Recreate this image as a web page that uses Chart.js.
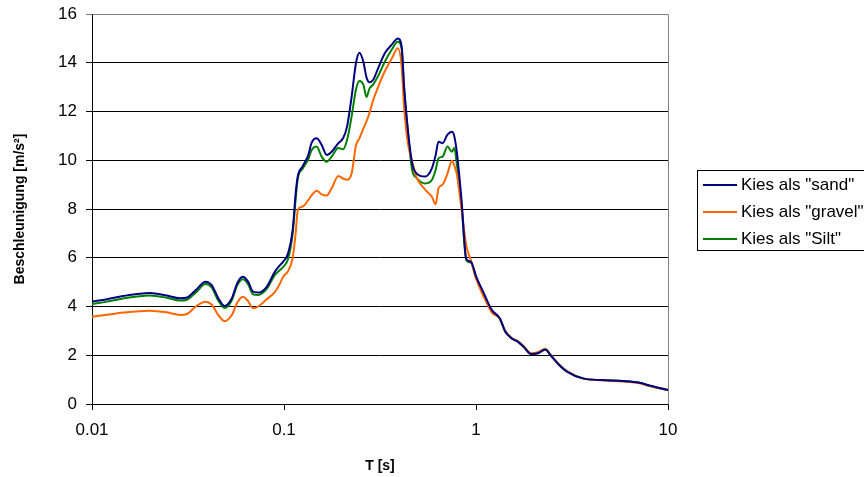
<!DOCTYPE html>
<html>
<head>
<meta charset="utf-8">
<script src="https://cdn.jsdelivr.net/npm/chart.js@4/dist/chart.umd.min.js"></script>
<style>
  html, body { margin: 0; padding: 0; background: #fff; }
  canvas { display: block; }
</style>
</head>
<body>
<canvas id="chart" width="864" height="477"></canvas>
<script>
// Perioden T [s]
const periods = [
  0.010, 0.012, 0.0145, 0.020, 0.0245, 0.0287, 0.031, 0.035, 0.039, 0.042,
  0.0455, 0.049, 0.0535, 0.057, 0.061, 0.065, 0.069, 0.0734, 0.0813, 0.0897,
  0.0954, 0.099, 0.105, 0.111, 0.115, 0.118, 0.125, 0.134, 0.139, 0.148,
  0.157, 0.167, 0.177, 0.192, 0.203, 0.213, 0.225, 0.237, 0.247, 0.259,
  0.269, 0.279, 0.291, 0.309, 0.335, 0.363, 0.392, 0.41, 0.422, 0.44,
  0.465, 0.49, 0.543, 0.589, 0.616, 0.638, 0.67, 0.71, 0.75, 0.77,
  0.796, 0.84, 0.89, 0.94, 1.0, 1.09, 1.21, 1.33, 1.42, 1.53,
  1.65, 1.77, 1.94, 2.1, 2.3, 2.44, 2.71, 2.98, 3.6, 4.5,
  5.8, 7.1, 8.0, 10
];

const sand = [
  4.20, 4.30, 4.43, 4.55, 4.45, 4.34, 4.36, 4.70, 5.02, 4.88,
  4.34, 4.02, 4.34, 4.95, 5.22, 5.02, 4.61, 4.57, 4.81, 5.43,
  5.70, 5.84, 6.18, 7.14, 8.64, 9.35, 9.75, 10.22, 10.70, 10.90,
  10.63, 10.22, 10.35, 10.70, 10.90, 11.38, 12.60, 13.98, 14.41, 14.04,
  13.40, 13.20, 13.29, 13.77, 14.39, 14.73, 15.00, 14.66, 13.02, 11.38,
  9.87, 9.46, 9.33, 9.67, 10.20, 10.76, 10.70, 11.05, 11.17, 11.00,
  10.28, 8.40, 5.95, 5.84, 5.25, 4.60, 3.85, 3.52, 2.97, 2.70,
  2.56, 2.35, 2.05, 2.08, 2.24, 2.01, 1.60, 1.33, 1.05, 0.98,
  0.94, 0.87, 0.76, 0.57
];

const gravel = [
  3.58, 3.66, 3.75, 3.83, 3.76, 3.65, 3.68, 4.02, 4.20, 4.08,
  3.65, 3.40, 3.65, 4.15, 4.40, 4.22, 3.93, 4.00, 4.30, 4.60,
  4.95, 5.22, 5.45, 6.00, 7.00, 7.96, 8.10, 8.37, 8.55, 8.75,
  8.60, 8.55, 8.85, 9.35, 9.25, 9.20, 9.46, 10.60, 10.90, 11.30,
  11.60, 11.95, 12.45, 13.00, 13.65, 14.15, 14.59, 13.84, 12.20, 10.80,
  9.95, 9.30, 8.80, 8.50, 8.20, 8.85, 9.00, 9.45, 9.98, 9.80,
  9.40, 8.00, 6.50, 5.90, 5.15, 4.45, 3.75, 3.50, 3.00, 2.72,
  2.58, 2.38, 2.08, 2.12, 2.27, 2.03, 1.62, 1.35, 1.05, 0.97,
  0.92, 0.85, 0.74, 0.57
];

const silt = [
  4.10, 4.20, 4.33, 4.45, 4.36, 4.25, 4.27, 4.60, 4.92, 4.78,
  4.24, 3.94, 4.26, 4.86, 5.12, 4.92, 4.50, 4.47, 4.72, 5.30,
  5.50, 5.62, 5.95, 7.00, 8.40, 9.25, 9.65, 10.05, 10.40, 10.56,
  10.15, 9.94, 10.15, 10.50, 10.45, 10.83, 11.80, 12.90, 13.25, 13.10,
  12.60, 12.95, 13.10, 13.45, 14.04, 14.52, 14.86, 14.59, 13.00, 11.30,
  9.60, 9.28, 9.05, 9.19, 9.60, 10.08, 10.15, 10.56, 10.35, 10.50,
  9.80, 8.20, 5.90, 5.80, 5.20, 4.50, 3.80, 3.50, 2.97, 2.70,
  2.56, 2.35, 2.05, 2.08, 2.24, 2.01, 1.60, 1.33, 1.05, 0.98,
  0.94, 0.87, 0.75, 0.57
];

const seriesLabels = ['Kies als "sand"', 'Kies als "gravel"', 'Kies als "Silt"'];
const seriesColors = ['#000080', '#FF6600', '#008000'];
const xTickValues = [0.01, 0.1, 1, 10];
const xTickLabels = ['0.01', '0.1', '1', '10'];

const FONT = '"Liberation Sans", Arial, sans-serif';

function toPoints(vals) {
  return periods.map((t, i) => ({ x: t, y: vals[i] }));
}

// Rahmen oben/rechts und Legende
const frameAndLegend = {
  id: 'frameAndLegend',
  afterDraw(chart) {
    const { ctx, chartArea: a } = chart;
    ctx.save();
    ctx.strokeStyle = '#808080';
    ctx.lineWidth = 1;
    ctx.beginPath();
    ctx.moveTo(Math.round(a.left) + 0.5, Math.round(a.top) + 0.5);
    ctx.lineTo(Math.round(a.right) + 0.5, Math.round(a.top) + 0.5);
    ctx.lineTo(Math.round(a.right) + 0.5, Math.round(a.bottom) + 0.5);
    ctx.stroke();

    // Legende
    ctx.strokeStyle = '#000';
    ctx.strokeRect(697.5, 170.5, 190, 80);
    const rows = [185, 212, 239];
    ctx.font = '17px ' + FONT;
    ctx.textBaseline = 'middle';
    ctx.fillStyle = '#000';
    chart.data.datasets.forEach((ds, i) => {
      ctx.strokeStyle = ds.borderColor;
      ctx.lineWidth = 2;
      ctx.beginPath();
      ctx.moveTo(703, rows[i]);
      ctx.lineTo(737, rows[i]);
      ctx.stroke();
      ctx.fillText(ds.label, 741, rows[i]);
    });
    ctx.restore();
  }
};

new Chart(document.getElementById('chart'), {
  type: 'line',
  data: {
    datasets: [sand, gravel, silt].map((vals, i) => ({
      label: seriesLabels[i],
      data: toPoints(vals),
      borderColor: seriesColors[i],
      backgroundColor: seriesColors[i],
      borderWidth: 2,
      pointRadius: 0,
      cubicInterpolationMode: 'monotone',
      fill: false
    }))
  },
  options: {
    responsive: false,
    animation: false,
    devicePixelRatio: 1,
    layout: { padding: { top: 14, right: 196, left: 0, bottom: 0 } },
    plugins: {
      legend: { display: false },
      tooltip: { enabled: false }
    },
    scales: {
      x: {
        type: 'logarithmic',
        min: 0.01,
        max: 10,
        afterBuildTicks(scale) {
          scale.ticks = xTickValues.map(v => ({ value: v }));
        },
        afterFit(scale) { scale.height = 73; },
        ticks: {
          autoSkip: false,
          maxRotation: 0,
          padding: 10,
          color: '#000',
          font: { family: FONT, size: 17 },
          callback(value) {
            const idx = xTickValues.indexOf(value);
            return idx >= 0 ? xTickLabels[idx] : '';
          }
        },
        grid: {
          drawOnChartArea: false,
          drawTicks: true,
          tickLength: 6,
          color: '#000'
        },
        border: { color: '#000', width: 1 },
        title: {
          display: true,
          text: 'T [s]',
          color: '#000',
          font: { family: FONT, size: 14, weight: 'bold' },
          padding: { top: 0, bottom: 2 }
        }
      },
      y: {
        min: 0,
        max: 16,
        afterFit(scale) {
          scale.width = 92;
          scale.paddingTop = 0;
          scale.paddingBottom = 0;
        },
        ticks: {
          stepSize: 2,
          padding: 9,
          color: '#000',
          font: { family: FONT, size: 17 }
        },
        grid: {
          color: ctx => (ctx.tick && ctx.tick.value === 16 ? '#808080' : '#000'),
          lineWidth: 1,
          drawTicks: true,
          tickLength: 6
        },
        border: { color: '#000', width: 1 },
        title: {
          display: true,
          text: 'Beschleunigung [m/s²]',
          color: '#000',
          font: { family: FONT, size: 14, weight: 'bold' },
          padding: { top: 12, bottom: 0 }
        }
      }
    }
  },
  plugins: [frameAndLegend]
});
</script>
</body>
</html>
